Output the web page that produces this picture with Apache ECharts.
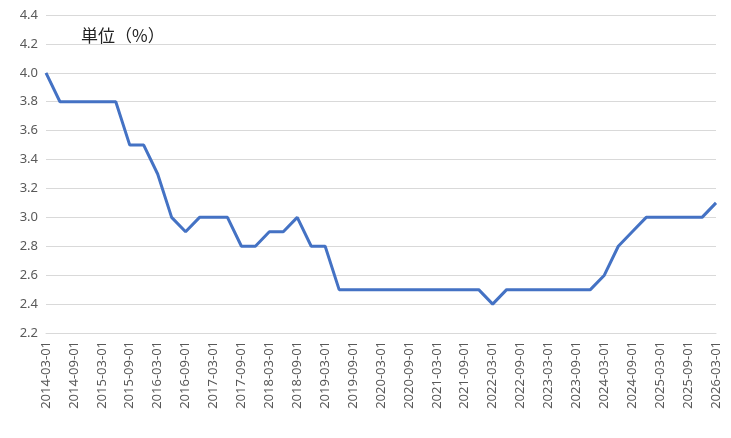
<!DOCTYPE html>
<html><head><meta charset="utf-8">
<script src="https://cdn.jsdelivr.net/npm/echarts@6/dist/echarts.min.js"></script>
<style>html,body{margin:0;background:#fff}#echart{width:731px;height:438px}</style>
</head><body><div id="echart"></div>
<script>
const dates = [];
for (let y = 2014; y <= 2026; y++) {
    for (const m of ['03', '06', '09', '12']) {
        if (y === 2026 && m !== '03') break;
        dates.push(`${y}-${m}-01`);
    }
}
const rates = [
    4.0, 3.8, 3.8, 3.8, 3.8, 3.8, 3.5, 3.5,
    3.3, 3.0, 2.9, 3.0, 3.0, 3.0, 2.8, 2.8,
    2.9, 2.9, 3.0, 2.8, 2.8, 2.5, 2.5, 2.5,
    2.5, 2.5, 2.5, 2.5, 2.5, 2.5, 2.5, 2.5,
    2.4, 2.5, 2.5, 2.5, 2.5, 2.5, 2.5, 2.5,
    2.6, 2.8, 2.9, 3.0, 3.0, 3.0, 3.0, 3.0,
    3.1
];
const unitLabel = '単位（%）';

const myChart = echarts.init(document.getElementById('echart'));
myChart.setOption({
    animation: false,
    title: {
        text: unitLabel, left: 76, top: 22,
        textStyle: { fontSize: 17, fontWeight: 'normal', color: '#222', fontFamily: "'Noto Sans CJK JP'" }
    },
    grid: { left: 46, right: 15, top: 15, bottom: 105 },
    xAxis: {
        type: 'category', data: dates, boundaryGap: false,
        axisTick: { show: false },
        axisLine: { lineStyle: { color: '#d9d9d9' } },
        axisLabel: { rotate: 90, interval: 1, color: '#595959', fontSize: 13, fontFamily: "'Noto Sans'", margin: 8 }
    },
    yAxis: {
        type: 'value', min: 2.2, max: 4.4, interval: 0.2,
        axisLine: { show: false }, axisTick: { show: false },
        splitLine: { lineStyle: { color: '#d9d9d9' } },
        axisLabel: { color: '#595959', fontSize: 13, fontFamily: "'Noto Sans'", formatter: v => v.toFixed(1) }
    },
    series: [{
        type: 'line', data: rates, symbol: 'none',
        lineStyle: { color: '#4472C4', width: 3 }
    }]
});
</script></body></html>
